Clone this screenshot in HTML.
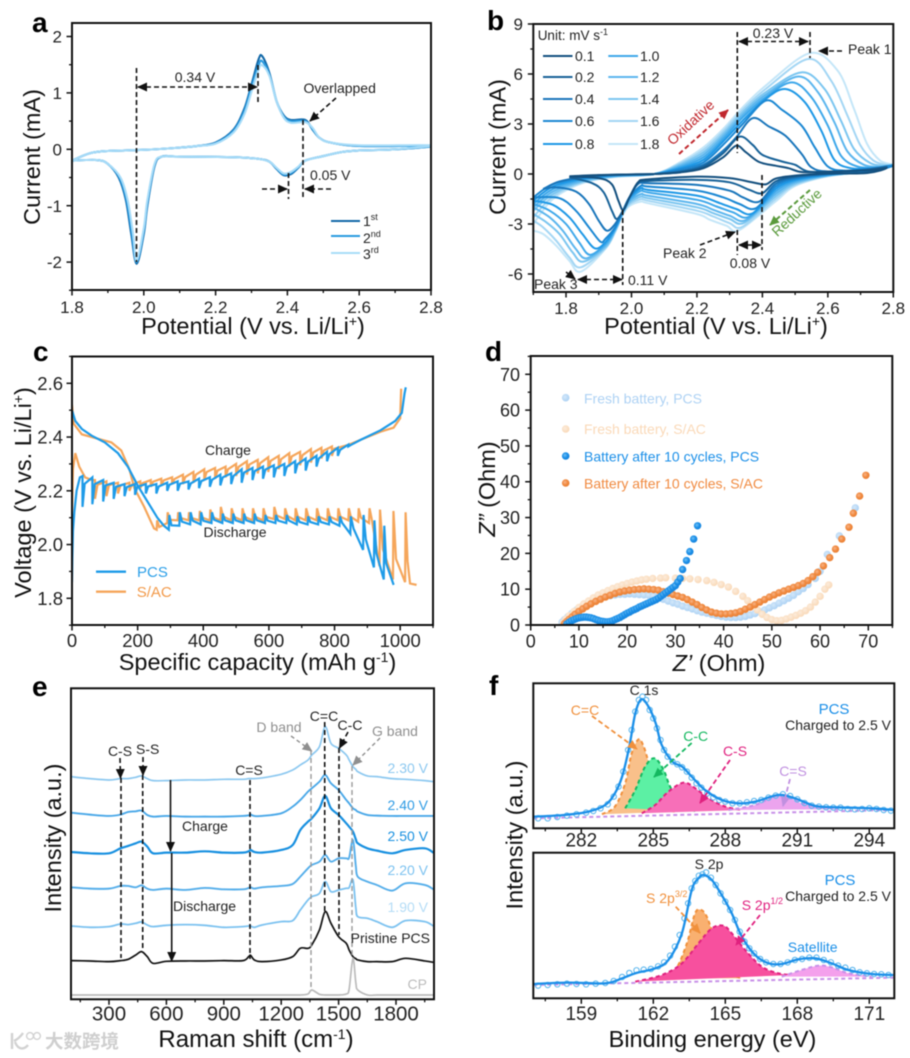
<!DOCTYPE html>
<html lang="en">
<head>
<meta charset="utf-8">
<title>Electrochemical characterization figure</title>
<style>
html,body{margin:0;padding:0;background:#fff;}
#figure{display:block;width:910px;height:1058px;filter:blur(0.5px);font-family:"Liberation Sans","Noto Sans CJK SC",sans-serif;}
.an{font-size:14px;fill:#222;}
.title{font-size:23.5px;fill:#111;text-anchor:middle;}
.plabel{font-size:28px;font-weight:bold;fill:#000;}
.dash{stroke:#111;stroke-width:1.6;stroke-dasharray:5 3;fill:none;}
.mid{text-anchor:middle;}
.end{text-anchor:end;}
</style>
</head>
<body>
<svg id="figure" xmlns="http://www.w3.org/2000/svg" width="910" height="1058" viewBox="0 0 910 1058">
<defs>
<marker id="ah-black" markerUnits="userSpaceOnUse" markerWidth="10" markerHeight="9" refX="9" refY="4.5" orient="auto-start-reverse"><path d="M0 0L10 4.5L0 9z" fill="#111"/></marker>
<marker id="ah-gray" markerUnits="userSpaceOnUse" markerWidth="10" markerHeight="9" refX="9" refY="4.5" orient="auto"><path d="M0 0L10 4.5L0 9z" fill="#8f8f8f"/></marker>
<marker id="ah-red" markerUnits="userSpaceOnUse" markerWidth="10" markerHeight="9" refX="9" refY="4.5" orient="auto"><path d="M0 0L10 4.5L0 9z" fill="#c0272d"/></marker>
<marker id="ah-green" markerUnits="userSpaceOnUse" markerWidth="10" markerHeight="9" refX="9" refY="4.5" orient="auto"><path d="M0 0L10 4.5L0 9z" fill="#5a9a3c"/></marker>
<marker id="ah-orange" markerUnits="userSpaceOnUse" markerWidth="10" markerHeight="9" refX="9" refY="4.5" orient="auto"><path d="M0 0L10 4.5L0 9z" fill="#f0903c"/></marker>
<marker id="ah-lime" markerUnits="userSpaceOnUse" markerWidth="10" markerHeight="9" refX="9" refY="4.5" orient="auto"><path d="M0 0L10 4.5L0 9z" fill="#14b860"/></marker>
<marker id="ah-pink" markerUnits="userSpaceOnUse" markerWidth="10" markerHeight="9" refX="9" refY="4.5" orient="auto"><path d="M0 0L10 4.5L0 9z" fill="#e0217f"/></marker>
<marker id="ah-violet" markerUnits="userSpaceOnUse" markerWidth="10" markerHeight="9" refX="9" refY="4.5" orient="auto"><path d="M0 0L10 4.5L0 9z" fill="#c090e0"/></marker>
<radialGradient id="ball-pcs" cx="0.4" cy="0.4" r="0.7"><stop offset="0" stop-color="#6fc0f5"/><stop offset="0.5" stop-color="#1b8fe8"/><stop offset="1" stop-color="#157fd8"/></radialGradient>
<radialGradient id="ball-sac" cx="0.4" cy="0.4" r="0.7"><stop offset="0" stop-color="#f8b488"/><stop offset="0.5" stop-color="#f08a40"/><stop offset="1" stop-color="#e87c30"/></radialGradient>
<radialGradient id="ball-fpcs" cx="0.4" cy="0.4" r="0.7"><stop offset="0" stop-color="#d4e8fa"/><stop offset="1" stop-color="#a6cef3"/></radialGradient>
<radialGradient id="ball-fsac" cx="0.4" cy="0.4" r="0.7"><stop offset="0" stop-color="#fcecdc"/><stop offset="1" stop-color="#f9d6b2"/></radialGradient>
<clipPath id="clip-a"><rect x="72" y="23" width="359" height="267"/></clipPath>
<clipPath id="clip-b"><rect x="533.3" y="24" width="360" height="268"/></clipPath>
<clipPath id="clip-c"><rect x="72" y="356.5" width="361" height="268.5"/></clipPath>
<clipPath id="clip-d"><rect x="530.7" y="356" width="361.6" height="269"/></clipPath>
<clipPath id="clip-e"><rect x="71" y="688.3" width="363" height="311"/></clipPath>
<clipPath id="clip-f1"><rect x="533.3" y="683.3" width="361" height="145"/></clipPath>
<clipPath id="clip-f2"><rect x="533.3" y="852.7" width="361" height="145.6"/></clipPath>
</defs>

<!-- Panel a -->
<g>
  <g id="marks-a" clip-path="url(#clip-a)"></g>
  <g id="axes-a"></g>
  <text class="plabel" x="32" y="32">a</text>
  <text class="title" x="253" y="334">Potential (V vs. Li/Li<tspan font-size="14" dy="-8">+</tspan><tspan dy="8">)</tspan></text>
  <text class="title" transform="translate(40,157) rotate(-90)">Current (mA)</text>
  <g>
    <line class="dash" x1="136.5" y1="68" x2="136.5" y2="262"/>
    <line class="dash" x1="258" y1="65" x2="258" y2="103"/>
    <line class="dash" x1="303" y1="120" x2="303" y2="198"/>
    <line class="dash" x1="288.5" y1="173" x2="288.5" y2="199"/>
    <line class="dash" x1="138" y1="87" x2="257" y2="87" marker-start="url(#ah-black)" marker-end="url(#ah-black)"/>
    <text class="an mid" x="195" y="82">0.34 V</text>
    <text class="an" x="303.5" y="93">Overlapped</text>
    <line class="dash" x1="336" y1="98" x2="310" y2="121" marker-end="url(#ah-black)"/>
    <text class="an" x="310" y="180">0.05 V</text>
    <line class="dash" x1="262" y1="189" x2="287" y2="189" marker-end="url(#ah-black)"/>
    <line class="dash" x1="331" y1="189" x2="305" y2="189" marker-end="url(#ah-black)"/>
  </g>
  <g>
    <line x1="331" y1="221" x2="360" y2="221" stroke="#1268a8" stroke-width="2"/>
    <line x1="331" y1="236" x2="360" y2="236" stroke="#2a9be0" stroke-width="2"/>
    <line x1="331" y1="253" x2="360" y2="253" stroke="#a8dcf8" stroke-width="2"/>
    <text class="an" x="363" y="226">1<tspan font-size="9" dy="-6">st</tspan></text>
    <text class="an" x="363" y="243">2<tspan font-size="9" dy="-6">nd</tspan></text>
    <text class="an" x="363" y="259">3<tspan font-size="9" dy="-6">rd</tspan></text>
  </g>
</g>

<!-- Panel b -->
<g>
  <g id="marks-b" clip-path="url(#clip-b)"></g>
  <g id="axes-b"></g>
  <text class="plabel" x="487" y="30">b</text>
  <text class="title" x="716" y="334">Potential (V vs. Li/Li<tspan font-size="14" dy="-8">+</tspan><tspan dy="8">)</tspan></text>
  <text class="title" transform="translate(505.5,147) rotate(-90)">Current (mA)</text>
  <g>
    <text x="537.7" y="40" font-size="13.5" fill="#222">Unit: mV s<tspan font-size="9" dy="-5">-1</tspan></text>
    <line x1="543" y1="56" x2="572.5" y2="56" stroke="#14507f" stroke-width="2"/>
    <line x1="543" y1="77" x2="572.5" y2="77" stroke="#186298" stroke-width="2"/>
    <line x1="543" y1="99" x2="572.5" y2="99" stroke="#1a76bb" stroke-width="2"/>
    <line x1="543" y1="121" x2="572.5" y2="121" stroke="#1c88d3" stroke-width="2"/>
    <line x1="543" y1="144" x2="572.5" y2="144" stroke="#1e98e6" stroke-width="2"/>
    <line x1="608.3" y1="56" x2="638" y2="56" stroke="#3fa8ea" stroke-width="2"/>
    <line x1="608.3" y1="77" x2="638" y2="77" stroke="#5cb6ee" stroke-width="2"/>
    <line x1="608.3" y1="99" x2="638" y2="99" stroke="#7cc6f0" stroke-width="2"/>
    <line x1="608.3" y1="121" x2="638" y2="121" stroke="#a3d6f4" stroke-width="2"/>
    <line x1="608.3" y1="144" x2="638" y2="144" stroke="#c4e6f8" stroke-width="2"/>
    <text class="an" x="575" y="61">0.1</text>
    <text class="an" x="575" y="82">0.2</text>
    <text class="an" x="575" y="104">0.4</text>
    <text class="an" x="575" y="126">0.6</text>
    <text class="an" x="575" y="149">0.8</text>
    <text class="an" x="640" y="61">1.0</text>
    <text class="an" x="640" y="82">1.2</text>
    <text class="an" x="640" y="104">1.4</text>
    <text class="an" x="640" y="126">1.6</text>
    <text class="an" x="640" y="149">1.8</text>
  </g>
  <g>
    <line class="dash" x1="737.3" y1="32" x2="737.3" y2="153"/>
    <line class="dash" x1="737.3" y1="230" x2="737.3" y2="255"/>
    <line class="dash" x1="810" y1="32" x2="810" y2="58"/>
    <line class="dash" x1="762" y1="175" x2="762" y2="250"/>
    <line class="dash" x1="622.7" y1="210" x2="622.7" y2="285"/>
    <text class="an mid" x="773" y="38">0.23 V</text>
    <line class="dash" x1="739" y1="41.5" x2="808" y2="41.5" marker-start="url(#ah-black)" marker-end="url(#ah-black)"/>
    <line class="dash" x1="842" y1="51" x2="819" y2="51" marker-end="url(#ah-black)"/>
    <text class="an" x="848" y="54">Peak 1</text>
    <text class="mid" font-size="14" fill="#c0272d" transform="translate(694,126) rotate(-43)">Oxidative</text>
    <line x1="679" y1="154" x2="728" y2="110" stroke="#c0272d" stroke-width="2" stroke-dasharray="5 3" marker-end="url(#ah-red)"/>
    <text class="mid" font-size="14" fill="#5a9a3c" transform="translate(800,216) rotate(-43)">Reductive</text>
    <line x1="810" y1="190" x2="770" y2="225" stroke="#5a9a3c" stroke-width="2" stroke-dasharray="5 3" marker-end="url(#ah-green)"/>
    <text class="an" x="663" y="258">Peak 2</text>
    <line class="dash" x1="700" y1="245" x2="735" y2="232" marker-end="url(#ah-black)"/>
    <line class="dash" x1="739" y1="245" x2="761" y2="245" marker-start="url(#ah-black)" marker-end="url(#ah-black)"/>
    <text class="an mid" x="750" y="268">0.08 V</text>
    <text class="an" x="628" y="285">0.11 V</text>
    <line class="dash" x1="578" y1="279.5" x2="622" y2="279.5" marker-start="url(#ah-black)" marker-end="url(#ah-black)"/>
    <text class="an" x="534" y="289">Peak 3</text>
    <line class="dash" x1="566" y1="272" x2="575" y2="279" marker-end="url(#ah-black)"/>
  </g>
</g>

<!-- Panel c -->
<g>
  <g id="marks-c" clip-path="url(#clip-c)"></g>
  <g id="axes-c"></g>
  <text class="plabel" x="33" y="361">c</text>
  <text class="title" x="257.5" y="670">Specific capacity (mAh g<tspan font-size="14" dy="-8">-1</tspan><tspan dy="8">)</tspan></text>
  <text class="title" transform="translate(31,492.5) rotate(-90)">Voltage (V vs. Li/Li<tspan font-size="14" dy="-8">+</tspan><tspan dy="8">)</tspan></text>
  <text class="an mid" x="228" y="455">Charge</text>
  <text class="an mid" x="235" y="537">Discharge</text>
  <g>
    <line x1="96" y1="571.7" x2="126" y2="571.7" stroke="#1e9be8" stroke-width="2.3"/>
    <line x1="96" y1="591.7" x2="126" y2="591.7" stroke="#f5a65b" stroke-width="2.3"/>
    <text x="137" y="577" font-size="15" fill="#2b9fe8">PCS</text>
    <text x="136.7" y="597" font-size="15" fill="#f29a4a">S/AC</text>
  </g>
</g>

<!-- Panel d -->
<g>
  <g id="marks-d" clip-path="url(#clip-d)"></g>
  <g id="axes-d"></g>
  <text class="plabel" x="485" y="361">d</text>
  <text class="title" x="719" y="671"><tspan font-style="italic">Z’</tspan> (Ohm)</text>
  <text class="title" transform="translate(495,489) rotate(-90)"><tspan font-style="italic">Z”</tspan> (Ohm)</text>
  <g>
    <circle cx="565.7" cy="397.7" r="3.8" fill="url(#ball-fpcs)"/>
    <circle cx="565.7" cy="429" r="3.8" fill="url(#ball-fsac)"/>
    <circle cx="565.7" cy="456" r="3.8" fill="url(#ball-pcs)"/>
    <circle cx="565.7" cy="483" r="3.8" fill="url(#ball-sac)"/>
    <text x="584" y="403.5" font-size="14" fill="#aed2f4">Fresh battery, PCS</text>
    <text x="584" y="434" font-size="14" fill="#fad9b8">Fresh battery, S/AC</text>
    <text x="584" y="461.5" font-size="14" fill="#1b8fe8">Battery after 10 cycles, PCS</text>
    <text x="584" y="488.5" font-size="14" fill="#f08a40">Battery after 10 cycles, S/AC</text>
  </g>
</g>

<!-- Panel e -->
<g>
  <g id="marks-e" clip-path="url(#clip-e)"></g>
  <g id="axes-e"></g>
  <text class="plabel" x="32" y="696">e</text>
  <text class="title" x="256" y="1047" style="font-size:24px">Raman shift (cm<tspan font-size="14" dy="-8">-1</tspan><tspan dy="8">)</tspan></text>
  <text class="title" transform="translate(61,838) rotate(-90)">Intensity (a.u.)</text>
  <g>
    <line class="dash" x1="121" y1="770" x2="121" y2="958"/>
    <line class="dash" x1="142.7" y1="775" x2="142.7" y2="950"/>
    <line class="dash" x1="250" y1="780" x2="250" y2="959"/>
    <line x1="311" y1="750" x2="311" y2="990" stroke="#999" stroke-width="1.4" stroke-dasharray="5 3"/>
    <line class="dash" x1="324.7" y1="722" x2="324.7" y2="912"/>
    <line class="dash" x1="339" y1="748" x2="339" y2="935"/>
    <line x1="352" y1="766" x2="352" y2="955" stroke="#999" stroke-width="1.4" stroke-dasharray="5 3"/>
    <text class="an mid" x="120" y="756">C-S</text>
    <text class="an mid" x="147.7" y="754">S-S</text>
    <text class="an mid" x="249" y="775">C=S</text>
    <text class="an mid" x="279" y="732" style="fill:#8f8f8f">D band</text>
    <text class="an mid" x="324" y="721">C=C</text>
    <text class="an mid" x="350" y="730">C-C</text>
    <text class="an mid" x="395" y="736" style="fill:#8f8f8f">G band</text>
    <line class="dash" x1="120" y1="758" x2="120.5" y2="778" marker-end="url(#ah-black)"/>
    <line class="dash" x1="143" y1="757" x2="143" y2="775" marker-end="url(#ah-black)"/>
    <line x1="170.5" y1="780" x2="170.5" y2="851" stroke="#111" stroke-width="1.6" marker-end="url(#ah-black)"/>
    <line x1="171.7" y1="853" x2="171.7" y2="961" stroke="#111" stroke-width="1.6" marker-end="url(#ah-black)"/>
    <text class="an mid" x="205" y="831">Charge</text>
    <text class="an mid" x="204.5" y="911">Discharge</text>
    <line class="dash" x1="348" y1="732" x2="339.5" y2="748" marker-end="url(#ah-black)"/>
    <line x1="291" y1="736" x2="311.7" y2="751" stroke="#8f8f8f" stroke-width="1.4" stroke-dasharray="4 3" marker-end="url(#ah-gray)"/>
    <line x1="380" y1="738" x2="353" y2="765" stroke="#8f8f8f" stroke-width="1.4" stroke-dasharray="4 3" marker-end="url(#ah-gray)"/>
    <text class="an end" x="428" y="773" style="fill:#8cc8f0">2.30 V</text>
    <text class="an end" x="428" y="810" style="fill:#2f9be4">2.40 V</text>
    <text class="an end" x="428" y="841" style="fill:#1890e0">2.50 V</text>
    <text class="an end" x="428" y="875" style="fill:#7cc2f0">2.20 V</text>
    <text class="an end" x="428" y="912" style="fill:#b4dcf6">1.90 V</text>
    <text class="an end" x="430" y="943">Pristine PCS</text>
    <text class="an end" x="427" y="989" style="fill:#bbb">CP</text>
  </g>
</g>

<!-- Panel f -->
<g>
  <g id="marks-f1" clip-path="url(#clip-f1)"></g>
  <g id="axes-f1"></g>
  <g id="marks-f2" clip-path="url(#clip-f2)"></g>
  <g id="axes-f2"></g>
  <text class="plabel" x="489" y="695">f</text>
  <text class="title" x="712.5" y="1047">Binding energy (eV)</text>
  <text class="title" transform="translate(522.7,835) rotate(-90)">Intensity (a.u.)</text>
  <g>
    <text class="an mid" x="644" y="695">C 1s</text>
    <text class="mid" x="585" y="715" font-size="14" fill="#f0903c">C=C</text>
    <line x1="592" y1="716" x2="637" y2="749" stroke="#f0903c" stroke-width="1.8" stroke-dasharray="5 3" marker-end="url(#ah-orange)"/>
    <text class="mid" x="695.7" y="741" font-size="14" fill="#14b860">C-C</text>
    <line x1="691.7" y1="743" x2="654" y2="777" stroke="#14b860" stroke-width="1.8" stroke-dasharray="5 3" marker-end="url(#ah-lime)"/>
    <text class="mid" x="735" y="756" font-size="14" fill="#e0217f">C-S</text>
    <line x1="730" y1="760" x2="700" y2="803" stroke="#e0217f" stroke-width="1.8" stroke-dasharray="5 3" marker-end="url(#ah-pink)"/>
    <text class="mid" x="793" y="776" font-size="14" fill="#c090e0">C=S</text>
    <line x1="790" y1="779" x2="783" y2="806" stroke="#c090e0" stroke-width="1.8" stroke-dasharray="5 3" marker-end="url(#ah-violet)"/>
    <text class="mid" x="834" y="714" font-size="15" fill="#1b8fe8">PCS</text>
    <text class="end" x="891" y="730" font-size="14" fill="#222">Charged to 2.5 V</text>
  </g>
  <g>
    <text class="an mid" x="709" y="869">S 2p</text>
    <text class="mid" x="840" y="885" font-size="15" fill="#1b8fe8">PCS</text>
    <text class="end" x="891" y="901" font-size="14" fill="#222">Charged to 2.5 V</text>
    <text x="646" y="903" font-size="14" fill="#f0903c">S 2p<tspan font-size="9" dy="-6">3/2</tspan></text>
    <text x="741.7" y="910" font-size="14" fill="#e0217f">S 2p<tspan font-size="9" dy="-6">1/2</tspan></text>
    <text class="mid" x="812.7" y="952" font-size="14" fill="#1b8fe8">Satellite</text>
    <line x1="675.7" y1="906.7" x2="700" y2="933" stroke="#f0903c" stroke-width="1.8" stroke-dasharray="5 3" marker-end="url(#ah-orange)"/>
    <line x1="760" y1="915" x2="736" y2="945" stroke="#e0217f" stroke-width="1.8" stroke-dasharray="5 3" marker-end="url(#ah-pink)"/>
  </g>
</g>

<!-- Watermark -->
<g>
  <path d="M12 1033V1049M14 1041C18 1039 21 1036 23 1033M15 1042C18 1050 24 1050 28 1045" fill="none" stroke="#d2d2d2" stroke-width="2.4"/>
  <circle cx="30" cy="1036" r="3.4" fill="none" stroke="#d2d2d2" stroke-width="1.4"/>
  <circle cx="37" cy="1036" r="3.4" fill="none" stroke="#d2d2d2" stroke-width="1.4"/>
  <text x="45" y="1048" font-size="18.5" font-weight="bold" fill="#cfcfcf" font-family="'Liberation Sans','Noto Sans CJK SC',sans-serif">大数跨境</text>
</g>

<script>
/* ---------- Panel a: axis ticks and CV data ---------- */
const aXTicks = [1.8, 2.0, 2.2, 2.4, 2.6, 2.8];
const aXMinor = [1.9, 2.1, 2.3, 2.5, 2.7];
const aYTicks = [-2, -1, 0, 1, 2];
const aYMinor = [-2.5, -1.5, -0.5, 0.5, 1.5];
const aYLabels = ['-2', '-1', '0', '1', '2'];
const aCycle1 = [[1.8,-.2],[1.85,-.07],[1.9,-.03],[2,-.01],[2.1,.03],[2.15,.06],[2.2,.12],[2.25,.35],[2.28,.72],[2.3,1.15],[2.32,1.6],[2.33,1.65],[2.35,1.35],[2.37,.85],[2.39,.6],[2.41,.52],[2.45,.52],[2.47,.35],[2.49,.2],[2.52,.12],[2.6,.06],[2.8,.06],[2.7,0],[2.6,-.02],[2.55,-.05],[2.5,-.12],[2.45,-.2],[2.43,-.33],[2.41,-.44],[2.39,-.46],[2.37,-.35],[2.35,-.22],[2.32,-.17],[2.25,-.14],[2.1,-.13],[2.05,-.13],[2.03,-.3],[2.01,-1],[2,-1.5],[1.98,-2.03],[1.965,-1.5],[1.95,-.9],[1.93,-.5],[1.9,-.26],[1.87,-.19],[1.8,-.2]];
const aCycle2 = [[1.8,-.2],[1.85,-.07],[1.9,-.03],[2,-.01],[2.1,.03],[2.15,.06],[2.2,.11],[2.25,.33],[2.28,.68],[2.3,1.1],[2.32,1.5],[2.33,1.56],[2.35,1.32],[2.37,.85],[2.39,.58],[2.41,.5],[2.45,.5],[2.47,.36],[2.49,.2],[2.52,.12],[2.6,.06],[2.8,.06],[2.7,0],[2.6,-.02],[2.55,-.05],[2.5,-.12],[2.45,-.2],[2.43,-.32],[2.41,-.42],[2.39,-.45],[2.37,-.34],[2.35,-.22],[2.32,-.17],[2.25,-.14],[2.1,-.13],[2.05,-.13],[2.03,-.28],[2.01,-.95],[2,-1.45],[1.98,-2],[1.967,-1.5],[1.952,-.9],[1.932,-.5],[1.9,-.26],[1.87,-.19],[1.8,-.2]];
const aCycle3 = [[1.8,-.2],[1.85,-.07],[1.9,-.03],[2,-.01],[2.1,.03],[2.15,.06],[2.2,.1],[2.25,.3],[2.28,.62],[2.3,1.02],[2.32,1.42],[2.33,1.49],[2.35,1.3],[2.37,.85],[2.39,.56],[2.41,.47],[2.45,.48],[2.47,.38],[2.49,.2],[2.52,.12],[2.6,.07],[2.8,.07],[2.7,0],[2.6,-.02],[2.55,-.05],[2.5,-.12],[2.45,-.2],[2.43,-.31],[2.41,-.4],[2.39,-.43],[2.37,-.33],[2.35,-.22],[2.32,-.17],[2.25,-.14],[2.1,-.13],[2.05,-.13],[2.03,-.26],[2.01,-.9],[2,-1.4],[1.98,-1.98],[1.97,-1.5],[1.955,-.9],[1.935,-.5],[1.9,-.26],[1.87,-.19],[1.8,-.2]];

/* ---------- Panel b: ticks and scan-rate CV data ---------- */
const bXTicks = [1.8, 2.0, 2.2, 2.4, 2.6, 2.8];
const bXMinor = [1.7, 1.9, 2.1, 2.3, 2.5, 2.7];
const bYTicks = [-6, -3, 0, 3, 6, 9];
const bYMinor = [-4.5, -1.5, 1.5, 4.5, 7.5];
const bRate18 = [[1.7,-3],[1.76,-1.5],[1.85,-.55],[1.95,-.18],[2.07,0],[2.15,.72],[2.22,1.6],[2.28,2.7],[2.34,4],[2.41,5.3],[2.545,7.25],[2.63,6.2],[2.68,3.9],[2.72,1.8],[2.76,.8],[2.8,.5],[2.72,.15],[2.6,-.14],[2.5,-.72],[2.44,-1.65],[2.33,-3.36],[2.29,-3.1],[2.24,-2.75],[2.2,-2.4],[2.05,-1.75],[2.03,-1.65],[1.995,-1.9],[1.975,-2.4],[1.95,-3.5],[1.92,-4.5],[1.845,-5.86],[1.81,-5.2],[1.77,-4.3],[1.73,-3.6],[1.7,-3.4]];
const bRate16 = [[1.7,-2.6],[1.76,-1.35],[1.85,-.5],[1.95,-.16],[2.07,0],[2.15,.65],[2.22,1.45],[2.28,2.55],[2.34,3.85],[2.41,5.1],[2.54,6.9],[2.61,5.6],[2.66,3.5],[2.7,1.7],[2.74,.8],[2.78,.55],[2.8,.55],[2.72,.15],[2.6,-.12],[2.5,-.65],[2.44,-1.5],[2.34,-3.16],[2.3,-2.95],[2.25,-2.55],[2.2,-2.2],[2.05,-1.6],[2.03,-1.5],[1.995,-1.8],[1.975,-2.35],[1.95,-3.45],[1.92,-4.45],[1.845,-5.6],[1.81,-5],[1.77,-4],[1.73,-3.2],[1.7,-2.8]];
const bRate14 = [[1.7,-2.2],[1.76,-1.2],[1.85,-.45],[1.95,-.14],[2.07,0],[2.15,.58],[2.22,1.3],[2.28,2.4],[2.34,3.7],[2.41,4.9],[2.52,6.1],[2.59,5.1],[2.64,3.2],[2.68,1.5],[2.73,.65],[2.77,.5],[2.8,.55],[2.72,.15],[2.6,-.1],[2.5,-.58],[2.44,-1.35],[2.345,-2.92],[2.3,-2.7],[2.25,-2.35],[2.2,-2],[2.05,-1.45],[2.03,-1.35],[1.995,-1.7],[1.975,-2.3],[1.95,-3.4],[1.92,-4.4],[1.853,-5.26],[1.82,-4.7],[1.78,-3.6],[1.74,-2.9],[1.7,-2.4]];
const bRate12 = [[1.7,-2],[1.76,-1.05],[1.85,-.4],[1.95,-.12],[2.07,0],[2.15,.5],[2.22,1.15],[2.28,2.25],[2.34,3.55],[2.41,4.75],[2.51,5.85],[2.57,4.9],[2.62,3.1],[2.66,1.35],[2.71,.55],[2.76,.42],[2.8,.5],[2.72,.15],[2.6,-.08],[2.5,-.5],[2.44,-1.2],[2.35,-2.76],[2.3,-2.5],[2.25,-2.15],[2.2,-1.8],[2.05,-1.3],[2.03,-1.2],[1.995,-1.6],[1.975,-2.25],[1.95,-3.35],[1.92,-4.3],[1.862,-5.06],[1.83,-4.5],[1.79,-3.4],[1.75,-2.6],[1.7,-2]];
const bRate10 = [[1.7,-1.8],[1.76,-.9],[1.85,-.33],[1.95,-.1],[2.07,0],[2.15,.42],[2.22,1],[2.28,2.1],[2.34,3.4],[2.41,4.6],[2.49,5.5],[2.55,4.6],[2.6,2.9],[2.64,1.1],[2.69,.45],[2.75,.38],[2.8,.5],[2.72,.15],[2.6,-.06],[2.5,-.42],[2.44,-1.05],[2.36,-2.56],[2.31,-2.3],[2.26,-1.95],[2.2,-1.55],[2.05,-1.1],[2.03,-1],[1.995,-1.5],[1.975,-2.2],[1.95,-3.3],[1.92,-4.2],[1.873,-4.85],[1.84,-4.1],[1.8,-3],[1.75,-2.2],[1.7,-1.8]];
const bRate08 = [[1.7,-1.6],[1.76,-.75],[1.85,-.28],[1.95,-.08],[2.07,0],[2.15,.35],[2.22,.85],[2.28,1.95],[2.34,3.2],[2.41,4.5],[2.47,5.1],[2.53,4.3],[2.58,2.6],[2.62,.85],[2.67,.35],[2.74,.35],[2.8,.5],[2.72,.15],[2.6,-.04],[2.5,-.35],[2.44,-.9],[2.37,-2.36],[2.32,-2.1],[2.27,-1.75],[2.2,-1.3],[2.05,-.95],[2.03,-.85],[1.995,-1.4],[1.975,-2.16],[1.95,-3.25],[1.92,-4.1],[1.888,-4.46],[1.85,-3.6],[1.81,-2.6],[1.76,-1.85],[1.7,-1.6]];
const bRate06 = [[1.7,-1.4],[1.76,-.6],[1.85,-.22],[1.95,-.06],[2.07,0],[2.15,.28],[2.22,.7],[2.28,1.75],[2.34,3],[2.41,4.4],[2.46,3.85],[2.52,2.9],[2.56,1.6],[2.6,.45],[2.65,.2],[2.72,.3],[2.8,.5],[2.72,.12],[2.6,-.02],[2.5,-.28],[2.44,-.75],[2.38,-2.06],[2.33,-1.8],[2.28,-1.4],[2.2,-1],[2.05,-.75],[2.03,-.7],[1.995,-1.36],[1.975,-2.16],[1.95,-3.2],[1.92,-3.9],[1.905,-4.06],[1.87,-3.2],[1.83,-2.2],[1.78,-1.45],[1.7,-1.4]];
const bRate04 = [[1.73,-.9],[1.78,-.45],[1.85,-.2],[1.95,-.05],[2.07,0],[2.15,.18],[2.22,.55],[2.28,1.4],[2.32,2.2],[2.37,3.35],[2.42,2.85],[2.47,2.3],[2.52,1.2],[2.55,.4],[2.6,.15],[2.72,.28],[2.78,.45],[2.72,.1],[2.6,0],[2.5,-.22],[2.44,-.6],[2.39,-1.66],[2.34,-1.4],[2.3,-1],[2.2,-.65],[2.05,-.55],[2.02,-.6],[1.995,-1.36],[1.975,-2.16],[1.95,-3],[1.925,-3.4],[1.9,-2.8],[1.87,-1.8],[1.83,-1.05],[1.77,-.8],[1.73,-.9]];
const bRate02 = [[1.81,-.2],[1.9,-.08],[2,-.03],[2.07,0],[2.15,.12],[2.22,.45],[2.28,1.25],[2.33,2.24],[2.37,1.75],[2.4,1.15],[2.46,.75],[2.5,.55],[2.54,.15],[2.62,.14],[2.72,.25],[2.78,.4],[2.72,.08],[2.6,.02],[2.5,-.15],[2.44,-.45],[2.4,-1.15],[2.36,-.95],[2.3,-.5],[2.2,-.35],[2.05,-.42],[2.02,-.55],[1.995,-1.36],[1.975,-2.16],[1.955,-2.7],[1.94,-2.2],[1.915,-1.1],[1.88,-.55],[1.81,-.2]];
const bRate01 = [[1.81,-.14],[1.9,-.06],[2,-.02],[2.07,0],[2.15,.1],[2.22,.35],[2.28,1],[2.32,1.7],[2.35,1.3],[2.39,.72],[2.44,.5],[2.48,.35],[2.52,.12],[2.6,.14],[2.72,.22],[2.78,.35],[2.72,.06],[2.6,.02],[2.5,-.1],[2.44,-.28],[2.41,-.62],[2.37,-.5],[2.3,-.25],[2.2,-.16],[2.05,-.32],[2.02,-.5],[1.995,-1.36],[1.975,-2.16],[1.96,-1.6],[1.94,-.62],[1.9,-.25],[1.81,-.14]];

/* ---------- Panel c: ticks and voltage profiles ---------- */
const cXTicks = [0, 200, 400, 600, 800, 1000];
const cXMinor = [100, 300, 500, 700, 900, 1100];
const cYTicks = [1.8, 2.0, 2.2, 2.4, 2.6];
const cYMinor = [1.7, 1.9, 2.1, 2.3, 2.5, 2.7];
const pcsChargeStart = [[0,1.86],[1,1.95],[3,2.05],[7,2.12],[14,2.2],[24,2.25]];
const pcsChargeCap = [32,62,95,127,160,192,225,257,290,322,355,387,420,452,485,517,550,582,615,647,680,712,745,777,810,842];
const pcsChargeTop = [2.255,2.25,2.24,2.23,2.225,2.225,2.225,2.225,2.23,2.235,2.235,2.245,2.25,2.26,2.265,2.28,2.285,2.29,2.295,2.3,2.31,2.32,2.33,2.345,2.36,2.372];
const pcsChargeBot = [2.14,2.15,2.16,2.17,2.18,2.185,2.19,2.19,2.2,2.2,2.205,2.21,2.215,2.22,2.225,2.23,2.24,2.245,2.25,2.255,2.265,2.275,2.29,2.31,2.33,2.365];
const pcsChargeEnd = [[880,2.39],[940,2.425],[985,2.46],[1005,2.49],[1013,2.56],[1017,2.585]];
const sacChargeStart = [[0,2.12],[3,2.28],[10,2.34],[22,2.29],[40,2.25],[60,2.24]];
const sacChargeCap = [70,105,140,175,208,240,272,305,338,370,403,436,468,500,533,566,598,630,662,695,728,760,792];
const sacChargeTop = [2.24,2.235,2.23,2.23,2.235,2.24,2.245,2.25,2.26,2.27,2.28,2.285,2.29,2.3,2.31,2.315,2.325,2.33,2.34,2.345,2.355,2.36,2.365];
const sacChargeBot = [2.17,2.18,2.19,2.2,2.21,2.215,2.22,2.225,2.225,2.23,2.24,2.245,2.25,2.255,2.26,2.265,2.27,2.28,2.29,2.295,2.305,2.32,2.33];
const sacChargeEnd = [[840,2.37],[880,2.39],[940,2.42],[980,2.435],[1000,2.47],[1003,2.58]];
const pcsDischargeStart = [[0,2.5],[10,2.46],[30,2.43],[60,2.405],[100,2.38],[140,2.34],[170,2.29],[200,2.22],[230,2.16],[260,2.1],[280,2.07]];
const pcsDischargeCap = [295,327,360,392,425,458,490,523,555,588,620,653,685,718,750,783,815,848,887,920,950];
const pcsDischargeTop = [2.11,2.12,2.12,2.12,2.12,2.115,2.115,2.115,2.115,2.11,2.11,2.11,2.105,2.105,2.105,2.105,2.105,2.105,2.11,2.09,2.07];
const pcsDischargeBot = [2.055,2.07,2.075,2.075,2.08,2.08,2.08,2.08,2.08,2.08,2.08,2.08,2.075,2.075,2.075,2.075,2.07,2.04,1.98,1.915,1.87];
const pcsDischargeEnd = [[980,1.85]];
const sacDischargeStart = [[0,2.52],[5,2.45],[30,2.41],[60,2.4],[120,2.38],[150,2.35],[175,2.28],[190,2.21],[220,2.14],[250,2.06]];
const sacDischargeCap = [258,290,322,355,388,420,452,485,518,550,582,615,648,680,712,745,778,810,842,872,905,937,978,1015];
const sacDischargeTop = [2.09,2.12,2.12,2.12,2.125,2.13,2.14,2.135,2.135,2.135,2.135,2.14,2.135,2.135,2.135,2.135,2.135,2.135,2.135,2.135,2.135,2.13,2.125,2.12];
const sacDischargeBot = [2.055,2.08,2.09,2.09,2.09,2.09,2.09,2.09,2.09,2.09,2.09,2.095,2.095,2.09,2.09,2.09,2.09,2.09,2.09,2.085,2.08,1.92,1.87,1.86];
const sacDischargeEnd = [[1030,1.855],[1050,1.85]];

/* ---------- Panel d: ticks and Nyquist data ---------- */
const dXTicks = [0, 10, 20, 30, 40, 50, 60, 70];
const dXMinor = [5, 15, 25, 35, 45, 55, 65, 75];
const dYTicks = [0, 10, 20, 30, 40, 50, 60, 70];
const dYMinor = [5, 15, 25, 35, 45, 55, 65, 75];
const freshPcs = [[6.5,.8],[7,1.5],[7.7,2.3],[8.5,3.2],[9.5,4.2],[10.5,5],[11.5,5.8],[12.5,6.4],[13.5,7],[14.5,7.5],[15.5,7.9],[16.5,8.2],[17.5,8.4],[18.5,8.6],[19.5,8.6],[20.5,8.7],[21.5,8.6],[22.5,8.5],[23.5,8.4],[24.5,8.3],[25.5,8.1],[26.5,7.7],[27.5,7.2],[28.5,6.7],[29.5,6.2],[30.5,5.8],[31.5,5.3],[32.5,4.9],[33.5,4.5],[34.5,4],[35.5,3.6],[36.5,3.3],[37.5,3],[38.5,2.7],[39.5,2.4],[40.5,2.2],[41.5,2.1],[42.5,2.1],[43.5,2.2],[44.5,2.4],[45.5,2.8],[46.5,3.2],[47.5,3.7],[48.5,4.2],[49.5,4.8],[50.5,5.4],[51.5,6.1],[52.5,6.8],[53.5,7.5],[54.5,8.3],[55.5,9.3],[56.5,10.2],[57.5,11.3],[59,13],[60,15],[61.5,19.7],[64,24.9],[67.3,32.7]];
const freshSac = [[6.8,.6],[7.3,1.6],[8,2.6],[9,3.8],[10,4.9],[11,5.9],[12,6.7],[13,7.6],[14,8.4],[15,9],[16,9.6],[17,10.2],[18,10.7],[19,11.2],[20,11.6],[21,12],[22,12.3],[23,12.6],[24,12.8],[25.3,13],[26.9,13.1],[28,13.2],[30,13.1],[31.5,13],[33,12.9],[34.7,12.7],[36.5,12.4],[38,11.9],[39.5,11.3],[41,10.6],[42.5,9.4],[44,8],[45,6.8],[46,5.4],[47,4.2],[48,3],[49,2.1],[50,1.5],[51,1.2],[52,1.3],[53,1.7],[54,2.2],[55,2.7],[56,3.3],[57,4],[58,5],[59,6.4],[60,8],[61,10],[61.8,11.2]];
const cycledSac = [[7,.4],[7.5,1],[8,1.6],[8.6,2.3],[9.2,3],[10,3.8],[10.8,4.5],[11.6,5.2],[12.5,5.9],[13.5,6.6],[14.5,7.2],[15.5,7.8],[16.5,8.3],[17.5,8.8],[18.5,9.2],[19.5,9.5],[20.5,9.7],[21.5,9.9],[22.5,10],[23.5,10.1],[24.5,10],[25.5,9.9],[26.5,9.7],[27.5,9.3],[28.5,8.9],[29.5,8.5],[30.5,8.1],[31.5,7.7],[32.5,7.1],[33.5,6.4],[34.5,5.7],[35.5,4.9],[36.5,4.2],[37.5,3.6],[38.5,3.3],[39.5,3.1],[40.5,3.1],[41.5,3.2],[42.5,3.4],[43.5,3.8],[44.5,4.4],[45.5,5],[46.5,5.7],[47.5,6.4],[48.5,7.1],[49.5,7.8],[50.5,8.4],[51.5,9],[52.5,9.5],[53.5,10],[54.5,10.5],[55.5,11],[56.5,11.6],[57.5,12.4],[58.5,13.5],[59.5,14.7],[60.7,16.5],[62,18.8],[63.2,21.2],[64.5,24],[66,27.3],[66.9,31.2],[68.2,36],[69.5,41.8]];
const cycledPcs = [[7.5,.3],[8,.8],[8.5,1.2],[9,1.5],[9.5,1.8],[10,2],[10.5,2.1],[11,2.2],[11.5,2.2],[12,2.1],[12.5,2],[13,1.8],[13.5,1.5],[14,1.3],[14.5,1.1],[15,1],[15.5,.9],[16,.9],[16.5,1],[17,1.2],[17.5,1.5],[18,1.8],[18.5,2.1],[19,2.5],[19.5,2.9],[20,3.3],[20.5,3.6],[21,4],[21.5,4.3],[22,4.6],[22.5,5],[23,5.3],[23.5,5.6],[24,5.9],[24.5,6.2],[25,6.5],[25.5,6.8],[26,7.1],[26.5,7.5],[27,8],[27.5,8.5],[28,9],[28.5,9.5],[29,10],[29.5,10.5],[30,11],[30.5,12],[31,13],[31.5,15.5],[32.3,18],[33,20.5],[33.8,24],[34.6,27.7]];

/* ---------- Panel e: ticks and Raman data (intensity in arbitrary units) ---------- */
const eXTicks = [300, 600, 900, 1200, 1500, 1800];
const eXMinor = [150, 450, 750, 1050, 1350, 1650, 1950];
const ramanShift = [100,200,300,360,400,440,470,500,530,600,700,800,900,1000,1030,1040,1060,1100,1200,1260,1300,1340,1360,1400,1430,1460,1500,1540,1555,1575,1590,1600,1650,1700,1780,1850,1950,1995];
const raman230 = [668,662,658,662,662,666,670,662,656,656,658,658,660,660,662,662,662,664,675,688,703,718,733,758,818,768,753,733,718,698,690,683,670,668,662,660,656,653];
const raman240 = [560,554,550,554,562,564,566,553,548,550,548,548,548,550,552,554,550,550,558,578,598,623,633,653,673,648,628,598,588,573,568,563,553,551,550,550,550,550];
const raman250 = [442,438,438,453,460,468,473,458,438,440,440,444,440,440,444,448,442,440,448,463,508,533,543,573,610,573,553,528,518,503,480,468,453,446,438,448,453,440];
const raman220 = [336,332,332,340,340,336,342,332,328,332,328,334,330,330,334,336,332,336,340,346,368,393,403,413,433,413,423,423,425,478,400,368,353,343,326,348,343,330];
const raman190 = [220,216,218,226,224,228,232,223,218,222,224,222,216,218,220,220,216,223,233,236,268,298,308,318,353,323,328,333,335,358,275,248,243,233,216,236,233,220];
const ramanPristine = [116,115,113,116,120,133,143,128,108,114,115,115,116,116,128,132,118,113,118,128,153,153,163,208,263,228,188,168,148,128,122,118,113,113,113,123,115,111];
const ramanCp = [13,13,13,13,13,13,13,13,13,13,13,13,13,13,13,13,13,13,13,13,13,16,28,15,13,13,13,16,30,123,50,28,13,13,13,13,13,13];

/* ---------- Panel f: ticks and XPS data ---------- */
const f1XTicks = [282, 285, 288, 291, 294];
const f1XMinor = [280.5, 283.5, 286.5, 289.5, 292.5];
const f2XTicks = [159, 162, 165, 168, 171];
const f2XMinor = [157.5, 160.5, 163.5, 166.5, 169.5];
const c1sEnvelope = [[280,35],[281.3,40],[282.3,50],[283,70],[283.4,105],[283.7,155],[284,245],[284.25,345],[284.5,387],[284.8,365],[285.1,315],[285.35,250],[285.8,200],[286.2,185],[286.6,155],[287.15,115],[287.85,85],[288.55,75],[289.25,80],[290.2,100],[290.9,90],[291.75,67],[292.7,63],[294.1,60],[295,55]];
const c1sMeasured = [[280.2,30],[280.6,30],[281,34],[281.4,38],[281.8,42],[282.2,47],[282.5,52],[282.8,60],[283.1,72],[283.35,95],[283.55,125],[283.75,170],[283.95,235],[284.1,295],[284.25,350],[284.4,385],[284.55,395],[284.7,385],[284.85,355],[285,330],[285.15,300],[285.3,265],[285.45,235],[285.6,215],[285.8,200],[286,192],[286.2,183],[286.4,170],[286.6,152],[286.8,135],[287,122],[287.25,105],[287.5,93],[287.75,85],[288,80],[288.3,75],[288.6,75],[288.9,78],[289.2,82],[289.5,85],[289.8,92],[290.1,98],[290.4,102],[290.7,97],[291,87],[291.3,76],[291.6,68],[291.9,65],[292.2,63],[292.5,62],[292.8,62],[293.1,58],[293.4,57],[293.7,58],[294,60],[294.3,58],[294.6,55],[294.9,53]];
const c1sBaseline = [[280,30],[295,55]];
const c1sCdoubleC = [[282.86,42],[283.4,65],[283.83,135],[284.1,225],[284.39,267],[284.6,245],[284.8,200],[285.08,145],[285.5,65],[285.9,50]];
const c1sCC = [[283.83,60],[284.25,115],[284.66,185],[285.05,210],[285.43,175],[285.7,125],[286.2,65],[286.75,52]];
const c1sCS = [[284.52,45],[285.08,70],[285.63,110],[286.26,137],[286.75,120],[287.3,90],[288,65],[288.7,55]];
const c1sCdoubleS = [[288.13,55],[289.24,70],[290.28,100],[291.18,75],[292,65],[292.7,57]];
const s2pEnvelope = [[157.02,43],[158.47,47],[160,45],[160.7,60],[161.25,75],[162.08,90],[162.63,115],[163.19,195],[163.6,325],[163.88,360],[164.09,370],[164.44,355],[164.85,310],[165.27,255],[165.69,185],[166.24,130],[166.8,105],[167.35,103],[168.05,117],[168.74,120],[169.43,105],[170.13,85],[171.1,73],[172,70]];
const s2pMeasured = [[157.2,38],[157.6,40],[158,42],[158.4,44],[158.8,43],[159.2,42],[159.6,44],[160,46],[160.35,52],[160.7,64],[161,76],[161.3,84],[161.6,86],[161.9,88],[162.2,96],[162.45,108],[162.7,128],[162.9,155],[163.1,190],[163.3,240],[163.45,285],[163.6,330],[163.75,352],[163.9,368],[164.05,372],[164.2,378],[164.4,362],[164.6,340],[164.8,315],[165,290],[165.2,265],[165.4,235],[165.6,200],[165.8,170],[166,150],[166.2,135],[166.45,118],[166.7,108],[167,103],[167.3,103],[167.6,108],[167.9,115],[168.2,118],[168.5,122],[168.8,122],[169.1,115],[169.4,108],[169.7,98],[170,92],[170.3,85],[170.6,78],[170.9,75],[171.2,73],[171.5,72],[171.8,70]];
const s2pBaseline = [[157,40],[172,62]];
const s2pThreeHalf = [[162.36,60],[162.92,85],[163.4,165],[163.74,255],[164,265],[164.23,245],[164.44,205],[164.85,135],[165.27,75],[165.69,60]];
const s2pOneHalf = [[161.25,50],[162.36,70],[163.19,105],[163.88,165],[164.44,210],[164.92,218],[165.27,195],[165.83,145],[166.52,95],[167.21,75],[167.77,70]];
const s2pSatellite = [[167.35,65],[168.18,85],[168.88,98],[169.43,93],[170.13,75],[171.1,65]];

/* ---------- Drawing helpers ---------- */
const SVGNS = 'http://www.w3.org/2000/svg';
function mk(tag, attrs, parent, name) {
  const el = document.createElementNS(SVGNS, tag);
  for (const k in attrs) el.setAttribute(k, attrs[k]);
  
  
  parent.appendChild(el);
  return el;
}
function scale(d0, d1, r0, r1) {
  return function (v) { return r0 + (v - d0) * (r1 - r0) / (d1 - d0); };
}
function smoothPath(pts, sx, sy) {
  const p = pts.map(function (q) { return [sx(q[0]), sy(q[1])]; });
  let d = 'M' + p[0][0].toFixed(2) + ' ' + p[0][1].toFixed(2);
  for (let i = 0; i < p.length - 1; i++) {
    const a = p[Math.max(i - 1, 0)], b = p[i], c = p[i + 1], e = p[Math.min(i + 2, p.length - 1)];
    d += 'C' + (b[0] + (c[0] - a[0]) / 6).toFixed(2) + ' ' + (b[1] + (c[1] - a[1]) / 6).toFixed(2) + ' ' +
         (c[0] - (e[0] - b[0]) / 6).toFixed(2) + ' ' + (c[1] - (e[1] - b[1]) / 6).toFixed(2) + ' ' +
         c[0].toFixed(2) + ' ' + c[1].toFixed(2);
  }
  return d;
}
function linePath(pts, sx, sy) {
  return pts.map(function (q, i) { return (i ? 'L' : 'M') + sx(q[0]).toFixed(2) + ' ' + sy(q[1]).toFixed(2); }).join('');
}
function drawAxes(id, prefix, box, sx, sy, xT, xM, yT, yM, yLab, fontSize, yLabelX, xBaseline, xDec, yDec) {
  const g = document.getElementById(id);
  mk('rect', {x: box.l, y: box.t, width: box.r - box.l, height: box.b - box.t, fill: 'none', stroke: '#111', 'stroke-width': 2}, g, prefix + '-frame');
  xT.forEach(function (v) {
    mk('line', {x1: sx(v), x2: sx(v), y1: box.b, y2: box.b + 5.5, stroke: '#111', 'stroke-width': 1.5}, g, prefix + '-x-tick');
    const t = mk('text', {x: sx(v), y: xBaseline, 'font-size': fontSize, 'text-anchor': 'middle', fill: '#222'}, g, prefix + '-x-tick-label');
    t.textContent = v.toFixed(xDec);
  });
  xM.forEach(function (v) {
    mk('line', {x1: sx(v), x2: sx(v), y1: box.b, y2: box.b + 3, stroke: '#111', 'stroke-width': 1.3}, g, prefix + '-x-minor-tick');
  });
  yT.forEach(function (v, i) {
    mk('line', {x1: box.l, x2: box.l - 5.5, y1: sy(v), y2: sy(v), stroke: '#111', 'stroke-width': 1.5}, g, prefix + '-y-tick');
    const t = mk('text', {x: yLabelX, y: sy(v) + fontSize * 0.36, 'font-size': fontSize, 'text-anchor': 'end', fill: '#222'}, g, prefix + '-y-tick-label');
    t.textContent = yLab ? yLab[i] : v.toFixed(yDec);
  });
  yM.forEach(function (v) {
    mk('line', {x1: box.l, x2: box.l - 3, y1: sy(v), y2: sy(v), stroke: '#111', 'stroke-width': 1.3}, g, prefix + '-y-minor-tick');
  });
}
function sawCharge(start, cap, top, bot, end) {
  const out = start.slice();
  cap.forEach(function (c, i) {
    const nextCap = i + 1 < cap.length ? cap[i + 1] : c + 32;
    out.push([c, top[i]]);
    out.push([c, bot[i]]);
    out.push([c + (nextCap - c) * 0.22, bot[i] + (top[i] - bot[i]) * 0.75]);
  });
  return out.concat(end);
}
function sawDischarge(start, cap, top, bot, end) {
  const out = start.slice();
  cap.forEach(function (c, i) {
    const nextCap = i + 1 < cap.length ? cap[i + 1] : c + 30;
    out.push([c, bot[i]]);
    out.push([c + 1.5, top[i]]);
    out.push([c + (nextCap - c) * 0.25, bot[i] + (top[i] - bot[i]) * 0.3]);
  });
  return out.concat(end);
}

/* ---------- Panel a ---------- */
(function () {
  const box = {l: 72, r: 431, t: 23, b: 290};
  const sx = scale(1.8, 2.8, box.l, box.r);
  const sy = scale(0, 2, 149.3, 36.5);
  const g = document.getElementById('marks-a');
  [[aCycle1, '#1268a8', 'cv-cycle-1'], [aCycle2, '#2a9be0', 'cv-cycle-2'], [aCycle3, '#a8dcf8', 'cv-cycle-3']].forEach(function (s) {
    mk('path', {d: smoothPath(s[0], sx, sy), fill: 'none', stroke: s[1], 'stroke-width': 2.1}, g, s[2]);
  });
  drawAxes('axes-a', 'panel-a', box, sx, sy, aXTicks, aXMinor, aYTicks, aYMinor, aYLabels, 17, 62, 313, 1, 0);
})();

/* ---------- Panel b ---------- */
(function () {
  const box = {l: 533.3, r: 893.3, t: 24, b: 292};
  const sx = scale(1.7, 2.8, box.l, box.r);
  const sy = scale(0, 9, 174, 24);
  const g = document.getElementById('marks-b');
  [[bRate18, '#c4e6f8', 'cv-rate-1-8'], [bRate16, '#a3d6f4', 'cv-rate-1-6'], [bRate14, '#7cc6f0', 'cv-rate-1-4'],
   [bRate12, '#5cb6ee', 'cv-rate-1-2'], [bRate10, '#3fa8ea', 'cv-rate-1-0'], [bRate08, '#1e98e6', 'cv-rate-0-8'],
   [bRate06, '#1c88d3', 'cv-rate-0-6'], [bRate04, '#1a76bb', 'cv-rate-0-4'], [bRate02, '#186298', 'cv-rate-0-2'],
   [bRate01, '#14507f', 'cv-rate-0-1']].forEach(function (s) {
    mk('path', {d: smoothPath(s[0], sx, sy), fill: 'none', stroke: s[1], 'stroke-width': 2}, g, s[2]);
  });
  drawAxes('axes-b', 'panel-b', box, sx, sy, bXTicks, bXMinor, bYTicks, bYMinor, ['-6', '-3', '0', '3', '6', '9'], 17, 523, 314, 1, 0);
})();

/* ---------- Panel c ---------- */
(function () {
  const box = {l: 72, r: 433, t: 356.5, b: 625};
  const sx = scale(0, 1100, box.l, box.r);
  const sy = scale(1.8, 2.6, 598.3, 383.3);
  const g = document.getElementById('marks-c');
  const sacC = sawCharge(sacChargeStart, sacChargeCap, sacChargeTop, sacChargeBot, sacChargeEnd);
  const sacD = sawDischarge(sacDischargeStart, sacDischargeCap, sacDischargeTop, sacDischargeBot, sacDischargeEnd);
  const pcsC = sawCharge(pcsChargeStart, pcsChargeCap, pcsChargeTop, pcsChargeBot, pcsChargeEnd);
  const pcsD = sawDischarge(pcsDischargeStart, pcsDischargeCap, pcsDischargeTop, pcsDischargeBot, pcsDischargeEnd);
  mk('path', {d: linePath(sacD, sx, sy), fill: 'none', stroke: '#f5a65b', 'stroke-width': 2.2}, g, 'sac-discharge-curve');
  mk('path', {d: linePath(sacC, sx, sy), fill: 'none', stroke: '#f5a65b', 'stroke-width': 2.2}, g, 'sac-charge-curve');
  mk('path', {d: linePath(pcsD, sx, sy), fill: 'none', stroke: '#1e9be8', 'stroke-width': 2.2}, g, 'pcs-discharge-curve');
  mk('path', {d: linePath(pcsC, sx, sy), fill: 'none', stroke: '#1e9be8', 'stroke-width': 2.2}, g, 'pcs-charge-curve');
  drawAxes('axes-c', 'panel-c', box, sx, sy, cXTicks, cXMinor, cYTicks, cYMinor, null, 18.5, 63, 647, 0, 1);
})();

/* ---------- Panel d ---------- */
(function () {
  const box = {l: 530.7, r: 892.3, t: 356, b: 625};
  const sx = scale(0, 70, box.l, 868.3);
  const sy = scale(0, 70, 625, 374.3);
  const g = document.getElementById('marks-d');
  [[freshPcs, 'url(#ball-fpcs)', 'fresh-pcs-point'], [freshSac, 'url(#ball-fsac)', 'fresh-sac-point'],
   [cycledSac, 'url(#ball-sac)', 'cycled-sac-point'], [cycledPcs, 'url(#ball-pcs)', 'cycled-pcs-point']].forEach(function (s) {
    s[0].forEach(function (q) {
      mk('circle', {cx: sx(q[0]), cy: sy(q[1]), r: 3.7, fill: s[1]}, g, s[2]);
    });
  });
  drawAxes('axes-d', 'panel-d', box, sx, sy, dXTicks, dXMinor, dYTicks, dYMinor, null, 18, 520, 647.5, 0, 0);
})();

/* ---------- Panel e ---------- */
(function () {
  const box = {l: 71, r: 434, t: 688.3, b: 999.3};
  const sx = scale(300, 1800, 109, 396);
  const sy = scale(0, 933, 999.3, 688.3);
  const g = document.getElementById('marks-e');
  [[raman230, '#8cc8f0', 1.7, 'raman-2-30-v'], [raman240, '#4aa8e8', 1.9, 'raman-2-40-v'], [raman250, '#1890e0', 2.2, 'raman-2-50-v'],
   [raman220, '#55aeea', 1.9, 'raman-2-20-v'], [raman190, '#7cc2f0', 1.8, 'raman-1-90-v'], [ramanPristine, '#111', 1.7, 'raman-pristine-pcs'],
   [ramanCp, '#bbb', 1.7, 'raman-cp']].forEach(function (s) {
    const pts = ramanShift.map(function (x, i) { return [x, s[0][i]]; });
    mk('path', {d: smoothPath(pts, sx, sy), fill: 'none', stroke: s[1], 'stroke-width': s[2]}, g, s[3]);
  });
  drawAxes('axes-e', 'panel-e', box, sx, sy, eXTicks, eXMinor, [], [], null, 20.5, 60, 1020.5, 0, 0);
})();

/* ---------- Panel f ---------- */
function drawXps(id, axesId, prefix, box, xd0, vMax, comps, baseline, measured, envelope, xT, xM, xBase) {
  const sx = scale(xd0, xd0 + 15, box.l, box.l + 360);
  const sy = scale(0, vMax, box.b, box.t);
  const g = document.getElementById(id);
  comps.forEach(function (c) {
    mk('path', {d: smoothPath(c[0], sx, sy) + 'Z', fill: c[1], stroke: 'none'}, g, c[3] + '-fill');
    mk('path', {d: smoothPath(c[0], sx, sy), fill: 'none', stroke: c[2], 'stroke-width': 2, 'stroke-dasharray': '4 3'}, g, c[3] + '-outline');
  });
  mk('path', {d: linePath(baseline, sx, sy), fill: 'none', stroke: '#c890e8', 'stroke-width': 2, 'stroke-dasharray': '4 3'}, g, prefix + '-baseline');
  measured.forEach(function (q) {
    mk('circle', {cx: sx(q[0]), cy: sy(q[1]), r: 2.7, fill: 'none', stroke: '#5fb8ee', 'stroke-width': 1.1}, g, prefix + '-measured-point');
  });
  mk('path', {d: smoothPath(envelope, sx, sy), fill: 'none', stroke: '#1b8fe8', 'stroke-width': 2.3}, g, prefix + '-envelope');
  drawAxes(axesId, prefix, box, sx, sy, xT, xM, [], [], null, 19, 0, xBase, 0, 0);
}
drawXps('marks-f1', 'axes-f1', 'c1s', {l: 533.3, r: 894.3, t: 683.3, b: 828.3}, 280, 435,
  [[c1sCdoubleC, '#f9c08a', '#f0903c', 'c1s-c-double-c'], [c1sCC, '#5cf0a4', '#14b860', 'c1s-c-c'],
   [c1sCS, '#f76fb8', '#e0217f', 'c1s-c-s'], [c1sCdoubleS, '#eca4ee', '#c890e8', 'c1s-c-double-s']],
  c1sBaseline, c1sMeasured, c1sEnvelope, f1XTicks, f1XMinor, 846.7);
drawXps('marks-f2', 'axes-f2', 's2p', {l: 533.3, r: 894.3, t: 852.7, b: 998.3}, 157, 437,
  [[s2pThreeHalf, '#f9b070', '#f0903c', 's2p-three-half'], [s2pOneHalf, '#f7509e', '#e0217f', 's2p-one-half'],
   [s2pSatellite, '#f4a0ec', '#c890e8', 's2p-satellite']],
  s2pBaseline, s2pMeasured, s2pEnvelope, f2XTicks, f2XMinor, 1020);
</script>
</svg>
</body>
</html>
